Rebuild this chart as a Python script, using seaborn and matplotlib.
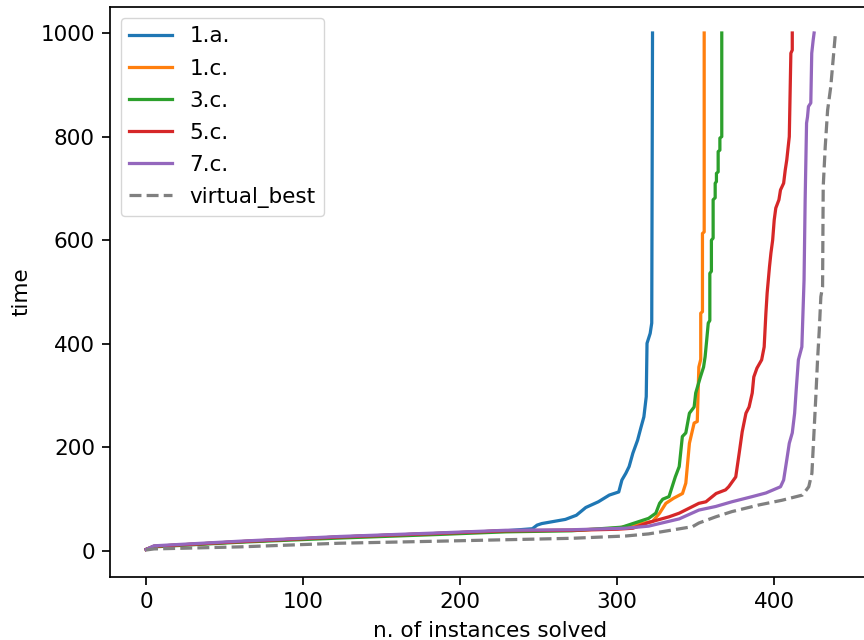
import matplotlib
matplotlib.use("Agg")
import matplotlib.pyplot as plt
import seaborn as sns
import pandas as pd

# Cactus plot: sorted solving times per configuration
configs = ["1.a.", "1.c.", "3.c.", "5.c.", "7.c.", "virtual_best"]

solved_1a = [0, 5, 60, 123, 187, 229, 246, 249, 252, 267, 274, 280, 288, 295, 301,
             303, 305.5, 307.6, 310, 313, 315, 317, 318.5, 319, 321, 322, 322.5]
time_1a = [3, 9, 18, 27, 34, 39, 43, 50, 53, 61, 69, 84, 95, 108, 114,
           137, 150, 163, 189, 214, 237, 259, 298, 401, 420, 440, 1000]

solved_1c = [0, 5, 60, 123, 187, 229, 271, 300, 310, 322.5, 327, 331, 336, 341.6,
             343.7, 346, 347, 349, 351, 352, 353.2, 353.2, 354.3, 354.3, 355.4, 355.4]
time_1c = [3, 9, 18, 27, 34, 39, 40, 44, 50, 57, 73, 92, 102, 111,
           131, 208, 221, 247, 250, 355, 370, 459, 462, 613, 616, 1000]

solved_3c = [0, 5, 60, 123, 187, 229, 271, 303, 314, 320, 324.6, 327, 329, 333, 335,
             337, 339.5, 341.5, 343.7, 346, 349, 350, 353, 355, 356, 357, 358, 359,
             359, 360, 360, 361.1, 361.1, 362.4, 362.4, 363.2, 363.2, 364.3, 364.3,
             365.4, 365.4, 366.6, 366.6]
time_3c = [3, 8, 17, 25, 32, 37, 39, 46, 57, 63, 73, 92, 100, 105, 124,
           143, 163, 221, 228, 266, 278, 305, 336, 355, 375, 407, 440, 445,
           536, 540, 600, 604, 678, 682, 710, 713, 729, 732, 771,
           774, 797, 800, 1000]

solved_5c = [0, 5, 60, 123, 187, 229, 271, 300, 310, 320, 333, 339.5, 352, 356.5,
             363, 369, 371, 375.5, 377.7, 379.6, 382, 384, 386, 387, 389, 392, 393.6,
             394.7, 395.5, 397, 397.9, 399, 400, 401, 403, 404, 406, 407, 408, 409.6,
             410.6, 411.5, 411.5]
time_5c = [3, 9, 18, 27, 34, 39, 40, 42, 44, 55, 66, 73, 92, 95,
           111, 118, 124, 143, 189, 230, 266, 278, 305, 336, 353, 369, 394,
           459, 498, 549, 575, 600, 639, 662, 678, 697, 710, 735, 755, 800,
           961, 967, 1000]

solved_7c = [0, 5, 60, 123, 187, 229, 271, 305.5, 320, 339.5, 352, 362.8, 373, 386,
             394.7, 404, 406, 408, 409.6, 411.5, 413, 414, 415.4, 417.6, 419, 419.7,
             420.6, 421.2, 421.8, 423.3, 423.9, 424.8, 425.4]
time_7c = [3, 10, 19, 28, 35, 40, 41, 44, 48, 62, 79, 86, 95, 105,
           112, 124, 137, 176, 208, 228, 266, 311, 369, 394, 523, 678,
           826, 838, 858, 865, 961, 986, 1000]

solved_vb = [0, 5, 60, 123, 187, 271, 305.5, 320, 348, 352, 362.8, 373, 390.4, 405,
             418, 422, 424, 425.4, 426.5, 427.6, 428.7, 429.7, 430.8, 431.2, 432.5,
             434, 436, 437.5, 439]
time_vb = [2, 4, 8, 15, 19, 24.5, 29, 33, 47, 54, 66, 76, 89, 98,
           108, 124, 150, 233, 298, 369, 427, 491, 510, 703, 781,
           851, 896, 948, 1000]

series = {
    "1.a.": (solved_1a, time_1a),
    "1.c.": (solved_1c, time_1c),
    "3.c.": (solved_3c, time_3c),
    "5.c.": (solved_5c, time_5c),
    "7.c.": (solved_7c, time_7c),
    "virtual_best": (solved_vb, time_vb),
}

frames = []
for name in configs:
    xs, ys = series[name]
    frames.append(pd.DataFrame({"solved": xs, "time": ys, "config": name}))
df = pd.concat(frames, ignore_index=True)

colors = {"1.a.": "#1f77b4", "1.c.": "#ff7f0e", "3.c.": "#2ca02c",
          "5.c.": "#d62728", "7.c.": "#9467bd", "virtual_best": "grey"}
styles = {"virtual_best": "--"}

s = 1.55
plt.rcParams.update({
    "font.size": 10 * s,
    "axes.linewidth": 0.8 * s,
    "xtick.major.size": 3.5 * s,
    "ytick.major.size": 3.5 * s,
    "xtick.major.width": 0.8 * s,
    "ytick.major.width": 0.8 * s,
    "xtick.major.pad": 3.5 * s,
    "ytick.major.pad": 3.5 * s,
    "axes.labelpad": 4.0 * s,
    "legend.frameon": True,
})

fig = plt.figure(figsize=(8.64, 6.4), dpi=100)
ax = fig.add_axes([110 / 864, (640 - 576.9) / 640, 760 / 864, 569.8 / 640])

for name in configs:
    sub = df[df["config"] == name]
    sns.lineplot(data=sub, x="solved", y="time", ax=ax, estimator=None, sort=False,
                 color=colors[name], linestyle=styles.get(name, "-"),
                 linewidth=1.5 * s, label=name)

ax.set_xlim(-23, 461)
ax.set_ylim(-50, 1050)
ax.set_xticks([0, 100, 200, 300, 400])
ax.set_yticks([0, 200, 400, 600, 800, 1000])
ax.set_xlabel("n. of instances solved")
ax.set_ylabel("time")
ax.legend(loc="upper left", labelspacing=0.56)

fig.savefig("out.png", dpi=100)
